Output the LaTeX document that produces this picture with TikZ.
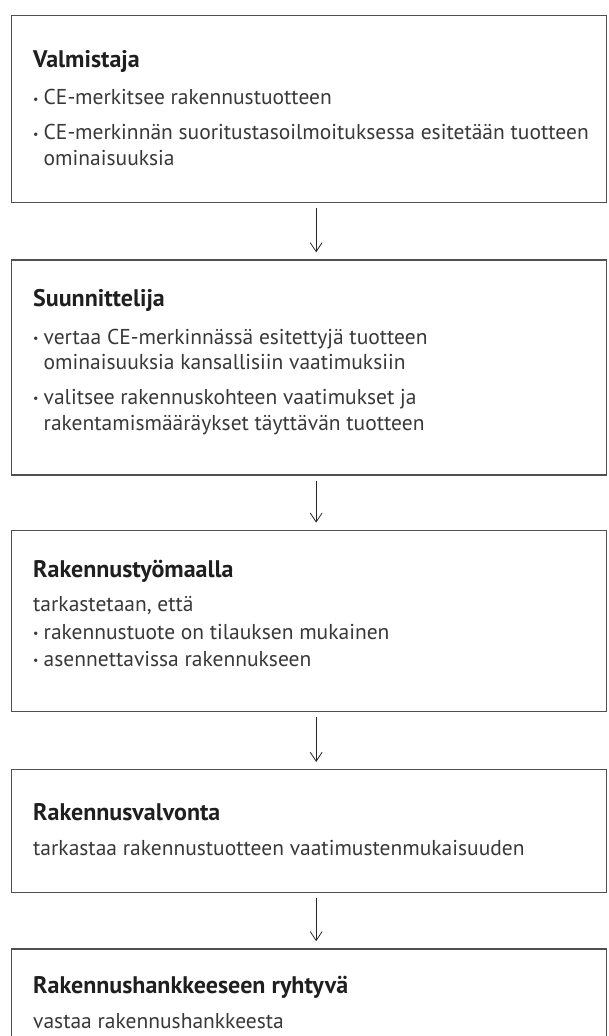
\documentclass[tikz,border=0pt]{standalone}
\usepackage{fontspec}
\setmainfont{PT Sans}
\usetikzlibrary{arrows.meta}
\usetikzlibrary{positioning}
\definecolor{boxgray}{HTML}{505050}
\definecolor{txtgray}{HTML}{383838}
\newcommand{\bul}{\makebox[10.5pt][l]{\raisebox{0.08em}{\fontsize{12}{12}\selectfont•}}}
\newcommand{\hd}[1]{{\fontsize{24}{25.5}\selectfont\bfseries\color{black!88}#1}}

\begin{document}
\begin{tikzpicture}[x=1pt,y=-1pt,
  box/.style={draw=boxgray,line width=1.3pt,minimum width=595pt,inner sep=0pt},
  txt/.style={align=left,inner sep=0pt,text=txtgray,font=\fontsize{21.5}{25.5}\selectfont},
  flow/.style={-{Straight Barb[length=9pt,width=12pt]},line width=0.8pt,black!85}]
\useasboundingbox (0,0) rectangle (609,1036);
% boxes
\node[box,minimum height=187pt,anchor=north west] (valm) at (11,15) {};
\node[box,minimum height=215pt,below=56pt of valm] (suun) {};
\node[box,minimum height=181pt,below=54pt of suun] (tyom) {};
\node[box,minimum height=123pt,below=57pt of tyom] (valv) {};
\node[box,minimum height=160pt,below=55pt of valv] (hank) {};
% texts
\node[txt,below right=35pt and 22pt of valm.north west] (valmt)
  {\hd{Valmistaja}\\[12pt]
   \bul CE-merkitsee rakennustuotteen\\[9.5pt]
   \bul CE-merkinnän suoritustasoilmoituksessa esitetään tuotteen\\
   \phantom{\bul}ominaisuuksia};
\node[txt,below right=30pt and 22pt of suun.north west] (suunt)
  {\hd{Suunnittelija}\\[12pt]
   \bul vertaa CE-merkinnässä esitettyjä tuotteen\\
   \phantom{\bul}ominaisuuksia kansallisiin vaatimuksiin\\[9.5pt]
   \bul valitsee rakennuskohteen vaatimukset ja\\
   \phantom{\bul}rakentamismääräykset täyttävän tuotteen};
\node[txt,below right=30pt and 22pt of tyom.north west] (tyomt)
  {\hd{Rakennustyömaalla}\\[9pt]
   tarkastetaan, että\\[2pt]
   \bul rakennustuote on tilauksen mukainen\\[2pt]
   \bul asennettavissa rakennukseen};
\node[txt,below right=34pt and 22pt of valv.north west] (valvt)
  {\hd{Rakennusvalvonta}\\[10pt]
   tarkastaa rakennustuotteen vaatimustenmukaisuuden};
\node[txt,below right=28pt and 22pt of hank.north west] (hankt)
  {\hd{Rakennushankkeeseen ryhtyvä}\\[9pt]
   vastaa rakennushankkeesta};
% arrows
\draw[flow] ([xshift=7pt,yshift=-5pt]valm.south) -- ([xshift=7pt,yshift=7pt]suun.north);
\draw[flow] ([xshift=7pt,yshift=-5pt]suun.south) -- ([xshift=7pt,yshift=7pt]tyom.north);
\draw[flow] ([xshift=7pt,yshift=-5pt]tyom.south) -- ([xshift=7pt,yshift=7pt]valv.north);
\draw[flow] ([xshift=7pt,yshift=-5pt]valv.south) -- ([xshift=7pt,yshift=7pt]hank.north);
\end{tikzpicture}
\end{document}
